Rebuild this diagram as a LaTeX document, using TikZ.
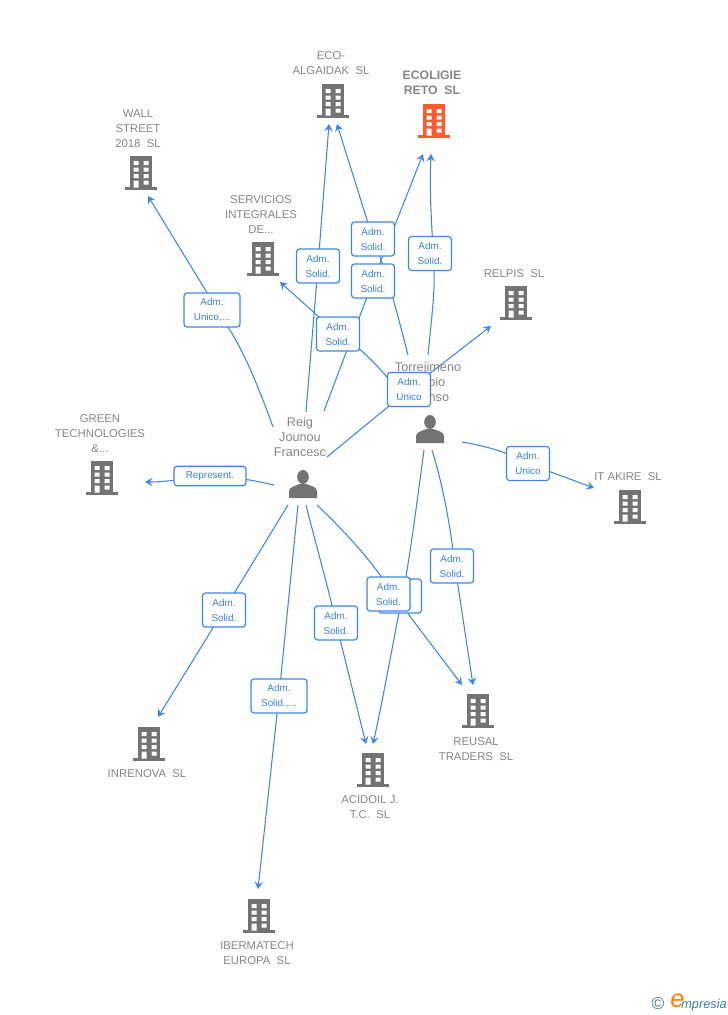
\documentclass[tikz,border=0pt]{standalone}
\usepackage{fontspec}
\setmainfont{Liberation Sans}
\usetikzlibrary{arrows.meta}
\definecolor{edgeblue}{HTML}{3F86E4}
\definecolor{labblue}{HTML}{3A7FDC}
\definecolor{txtgray}{HTML}{858585}
\definecolor{icongray}{HTML}{737373}
\definecolor{iconred}{HTML}{FF5A2B}
\definecolor{logoblue}{HTML}{3E7F9C}
\pgfdeclarelayer{edges}
\pgfsetlayers{edges,main}
\tikzset{
  building/.pic={
    \fill[pic actions] (-11,-34) rectangle (11,-2);
    \fill[pic actions] (-16,-3) rectangle (16,0);
    \fill[white] (-7.3,-29) rectangle (-2.4,-25) (2.6,-29) rectangle (7.5,-25)
                 (-7.3,-22.5) rectangle (-2.4,-18.5) (2.6,-22.5) rectangle (7.5,-18.5)
                 (-7.3,-16) rectangle (-2.4,-12) (2.6,-16) rectangle (7.5,-12)
                 (-7.3,-9.5) rectangle (-2.4,-2.5) (2.6,-9.5) rectangle (7.5,-5.5);
  },
  person/.pic={
    \fill[pic actions] (0,-7) ellipse (5.8 and 7);
    \fill[pic actions] (-14,14) -- (-14,7) .. controls (-14,3) and (-8,2) .. (-3.5,0)
       -- (3.5,0) .. controls (8,2) and (14,3) .. (14,7) -- (14,14) -- cycle;
  },
  anchorbox/.style={inner sep=0pt,minimum width=32,minimum height=34,shape=rectangle},
  nametxt/.style={text=txtgray,align=center,font=\fontsize{8.5}{11.25}\selectfont,inner sep=0pt},
  pnametxt/.style={text=txtgray,align=center,font=\fontsize{9.5}{11.25}\selectfont,inner sep=0pt},
  mainnametxt/.style={text=txtgray,align=center,font=\bfseries\fontsize{9.2}{11.25}\selectfont,inner sep=0pt},
  lab/.style={draw=edgeblue,line width=0.9pt,fill=white,rounded corners=2.2pt,text=labblue,
     align=center,font=\fontsize{7.4}{11.25}\selectfont,inner sep=0pt,minimum height=25.5pt,minimum width=32.2pt},
  labwide/.style={lab,minimum width=42pt},
  labrep/.style={lab,minimum width=54pt,minimum height=14.5pt},
  cedge/.style={draw=edgeblue,line width=0.8pt,-{Stealth[length=5.6pt,width=6.4pt,inset=2.2pt]}},
}
\newcommand{\bldg}[3]{\node[anchorbox,anchor=south] (#1) at (#2) {}; \pic[#3] at (#2) {building};}
\begin{document}
\begin{tikzpicture}[x=0.75pt,y=-0.75pt]
\useasboundingbox (0,0) rectangle (728,1015);
% buildings
\bldg{eco}{333,118}{fill=icongray}
\bldg{ecol}{434,138}{fill=iconred}
\bldg{wall}{141,190}{fill=icongray}
\bldg{serv}{263,276}{fill=icongray}
\bldg{relp}{516,320}{fill=icongray}
\bldg{green}{102,495}{fill=icongray}
\bldg{akire}{630,524}{fill=icongray}
\bldg{inre}{149,761}{fill=icongray}
\bldg{acid}{373,787}{fill=icongray}
\bldg{reus}{478,728}{fill=icongray}
\bldg{iber}{259,933}{fill=icongray}
% persons
\node[anchorbox] (reig) at (303,484) {}; \pic[fill=icongray] at (303,484) {person};
\node[anchorbox] (torr) at (430,429) {}; \pic[fill=icongray] at (430,429) {person};
% names
\node[nametxt] (neco) at (331,63.5) {ECO-\\ALGAIDAK\ \ SL};
\node[mainnametxt] (necol) at (432,83) {ECOLIGIE\\RETO\ \ SL};
\node[nametxt] (nwall) at (138,129) {WALL\\STREET\\2018\ \ SL};
\node[nametxt] (nserv) at (261,215) {SERVICIOS\\INTEGRALES\\DE...};
\node[nametxt] (nrelp) at (514,274) {RELPIS\ \ SL};
\node[nametxt] (ngreen) at (100,434) {GREEN\\TECHNOLOGIES\\\&...};
\node[nametxt] (nakire) at (628,477) {IT AKIRE\ \ SL};
\node[nametxt] (ninre) at (147,774) {INRENOVA\ \ SL};
\node[nametxt] (nacid) at (370,807.5) {ACIDOIL J.\\T.C.\ \ SL};
\node[nametxt] (nreus) at (476,749.5) {REUSAL\\TRADERS\ \ SL};
\node[nametxt] (niber) at (257,953.5) {IBERMATECH\\EUROPA\ \ SL};
\node[pnametxt] (nreig) at (300,437) {Reig\\Jounou\\Francesc};
\node[pnametxt] (ntorr) at (428,382) {Torrejimeno\\Scipio\\Alfonso};
% relation labels
\node[lab] (l2) at (318,266) {Adm.\\Solid.};
\node[lab] (l4) at (373,239) {Adm.\\Solid.};
\node[lab] (l3) at (373,281) {Adm.\\Solid.};
\node[lab] (l5) at (430,253.5) {Adm.\\Solid.};
\node[lab] (l7) at (338,334) {Adm.\\Solid.};
\node[labwide] (l1) at (212,310) {Adm.\\Unico,...};
\node[lab] (l6) at (409,389.5) {Adm.\\Unico};
\node[lab] (l8) at (528,463.5) {Adm.\\Unico};
\node[labrep] (l9) at (210,476) {Represent.};
\node[lab] (l10) at (224,610) {Adm.\\Solid.};
\node[labwide] (l11) at (279,696) {Adm.\\Solid.,...};
\node[lab] (l12) at (336,623) {Adm.\\Solid.};
\node[lab] (l14) at (400,596) {Adm.\\Solid.};
\node[lab] (l13) at (388.5,594) {Adm.\\Solid.};
\node[lab] (l15) at (452,566) {Adm.\\Solid.};
% connector ends
\coordinate (a1) at (273,427); \coordinate (t1) at (148,196);
\coordinate (a2) at (306,412); \coordinate (t2) at (329,124);
\coordinate (a3) at (324,411); \coordinate (t3) at (423,154);
\coordinate (a4) at (408,355); \coordinate (t4) at (337,124);
\coordinate (a5) at (428,355); \coordinate (t5) at (431,154);
\coordinate (a6) at (327,457); \coordinate (t6) at (491,326);
\coordinate (a7) at (395,387); \coordinate (t7) at (280,282);
\coordinate (a8) at (462,442); \coordinate (t8) at (594,488);
\coordinate (a9) at (274,485); \coordinate (t9) at (145,482);
\coordinate (a10) at (288,505); \coordinate (t10) at (158,717);
\coordinate (a11) at (298,505); \coordinate (t11) at (258,889);
\coordinate (a12) at (306,505); \coordinate (t12) at (366,744);
\coordinate (a13) at (317,505); \coordinate (t13) at (462,685);
\coordinate (a14) at (424,450); \coordinate (t14) at (373,744);
\coordinate (a15) at (432,450); \coordinate (t15) at (473,685);
\coordinate (v1) at (228,327);
\coordinate (v13) at (393,594);
\coordinate (v14) at (403,594);
\coordinate (v15) at (455,566);
\coordinate (v5) at (434,270);
% connectors
\begin{pgfonlayer}{edges}
\draw[cedge] (a1) .. controls (258,385) and (243,350) .. (v1) -- (t1);
\draw[cedge] (a2) -- (l2.center) -- (t2);
\draw[cedge] (a3) -- (l3.center) -- (t3);
\draw[cedge] (a4) .. controls (396,308) and (386,270) .. (l4.center) -- (t4);
\draw[cedge] (a5) .. controls (432,315) and (435,290) .. (v5) .. controls (433,240) and (429,200) .. (t5);
\draw[cedge] (a6) -- (l6.center) -- (t6);
\draw[cedge] (a7) .. controls (380,368) and (362,348) .. (l7.center) -- (t7);
\draw[cedge] (a8) .. controls (485,446) and (505,451) .. (l8.center) -- (t8);
\draw[cedge] (a9) .. controls (255,481) and (245,478) .. (l9.center) .. controls (185,478) and (170,482) .. (t9);
\draw[cedge] (a10) -- (l10.center) -- (t10);
\draw[cedge] (a11) -- (l11.center) -- (t11);
\draw[cedge] (a12) .. controls (316,545) and (329,590) .. (l12.center) -- (t12);
\draw[cedge] (a13) .. controls (345,532) and (370,558) .. (v13) -- (t13);
\draw[cedge] (a14) .. controls (416,510) and (410,555) .. (v14) .. controls (396,625) and (385,690) .. (t14);
\draw[cedge] (a15) .. controls (443,485) and (451,530) .. (v15) -- (t15);
\end{pgfonlayer}
% logo
\node[inner sep=0pt,text=logoblue,font=\fontsize{13}{13}\selectfont] (copy) at (658,1004) {©};
\node[inner sep=0pt,anchor=west,text=orange,font=\itshape\fontsize{19}{19}\selectfont] (logoe) at (670,1001) {e};
\node[inner sep=0pt,anchor=west,text=logoblue,font=\itshape\fontsize{9.6}{10}\selectfont] (logot) at (681,1005) {mpresia};
\end{tikzpicture}
\end{document}
